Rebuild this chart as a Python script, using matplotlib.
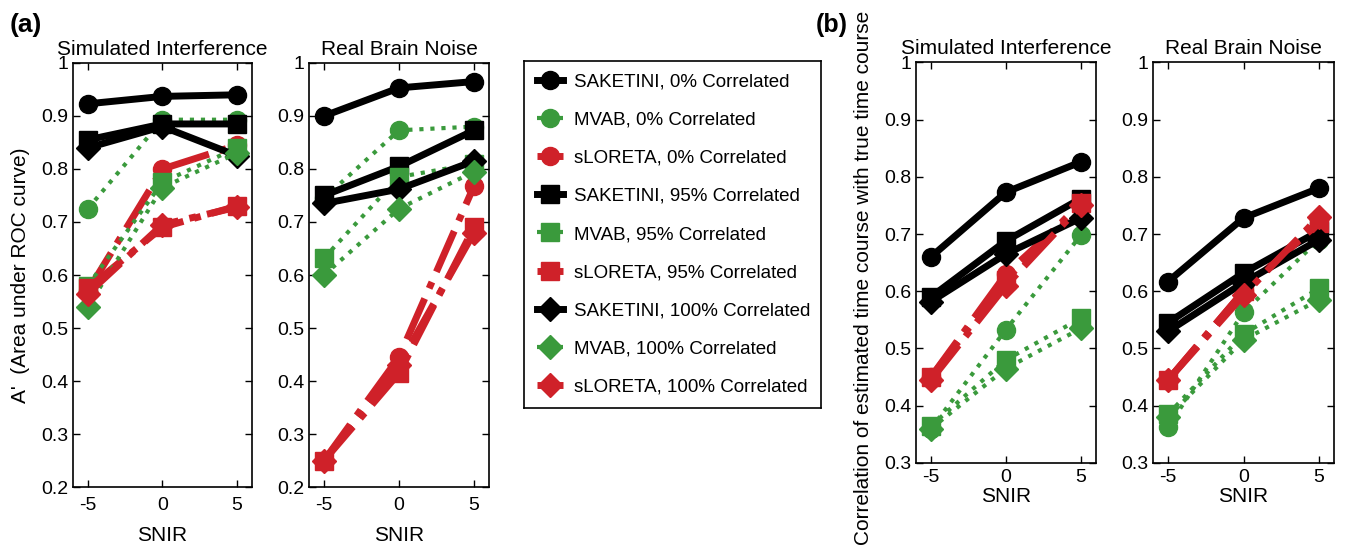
import matplotlib
matplotlib.use("Agg")
import matplotlib.pyplot as plt

plt.rcParams['font.family'] = ['Liberation Sans', 'DejaVu Sans']

snir = [-5, 0, 5]
labels = ['SAKETINI, 0% Correlated', 'MVAB, 0% Correlated', 'sLORETA, 0% Correlated',
          'SAKETINI, 95% Correlated', 'MVAB, 95% Correlated', 'sLORETA, 95% Correlated',
          'SAKETINI, 100% Correlated', 'MVAB, 100% Correlated', 'sLORETA, 100% Correlated']

# rows: 0%, 95%, 100% correlated
# (a) A' simulated interference
a_sim_saketini = [[0.923, 0.937, 0.940], [0.855, 0.885, 0.885], [0.840, 0.880, 0.825]]
a_sim_mvab = [[0.725, 0.893, 0.893], [0.580, 0.775, 0.840], [0.540, 0.765, 0.830]]
a_sim_sloreta = [[0.570, 0.800, 0.845], [0.575, 0.690, 0.730], [0.565, 0.695, 0.728]]
# (a) A' real brain noise
a_real_saketini = [[0.900, 0.953, 0.965], [0.750, 0.805, 0.873], [0.735, 0.762, 0.815]]
a_real_mvab = [[0.745, 0.873, 0.880], [0.632, 0.785, 0.810], [0.600, 0.725, 0.795]]
a_real_sloreta = [[0.250, 0.445, 0.768], [0.250, 0.415, 0.690], [0.250, 0.430, 0.680]]
# (b) correlation simulated interference
b_sim_saketini = [[0.660, 0.773, 0.826], [0.590, 0.688, 0.762], [0.582, 0.665, 0.728]]
b_sim_mvab = [[0.360, 0.533, 0.698], [0.365, 0.480, 0.553], [0.360, 0.465, 0.535]]
b_sim_sloreta = [[0.450, 0.630, 0.750], [0.450, 0.620, 0.755], [0.445, 0.610, 0.750]]
# (b) correlation real brain noise
b_real_saketini = [[0.617, 0.728, 0.780], [0.545, 0.632, 0.705], [0.530, 0.615, 0.690]]
b_real_mvab = [[0.363, 0.563, 0.690], [0.385, 0.525, 0.605], [0.380, 0.515, 0.585]]
b_real_sloreta = [[0.445, 0.600, 0.725], [0.445, 0.600, 0.720], [0.445, 0.593, 0.730]]

green = '#3a9a3c'
red = '#cf2129'
markers = ['o', 's', 'D']
styles = {'saketini': dict(color='black', ls='-', lw=5),
          'mvab': dict(color=green, ls=':', lw=3),
          'sloreta': dict(color=red, ls='-.', lw=5)}

fig = plt.figure(figsize=(13.46, 5.55), dpi=100)

def panel(rect, sak, mv, slo, ylim, yticks, ylabs, title):
    ax = fig.add_axes(rect)
    handles = []
    for i in range(3):
        for name, data in (('saketini', sak), ('mvab', mv), ('sloreta', slo)):
            st = styles[name]
            ms = 13 if markers[i] != 'D' else 12
            h, = ax.plot(snir, data[i], marker=markers[i], markersize=ms,
                         markeredgecolor=st['color'], markerfacecolor=st['color'],
                         color=st['color'], linestyle=st['ls'], linewidth=st['lw'])
            handles.append(h)
    ax.set_xlim(-6, 6)
    ax.set_ylim(*ylim)
    ax.set_xticks(snir)
    ax.set_xticklabels(['-5', '0', '5'])
    ax.set_yticks(yticks)
    ax.set_yticklabels(ylabs)
    ax.tick_params(direction='in', top=True, right=True, length=5, labelsize=14, width=1)
    for s in ax.spines.values():
        s.set_linewidth(1.2)
    ax.set_title(title, fontsize=15, pad=6)
    return ax, handles

ya = [0.2, 0.3, 0.4, 0.5, 0.6, 0.7, 0.8, 0.9, 1.0]
ya_l = ['0.2', '0.3', '0.4', '0.5', '0.6', '0.7', '0.8', '0.9', '1']
yb = [0.3, 0.4, 0.5, 0.6, 0.7, 0.8, 0.9, 1.0]
yb_l = ['0.3', '0.4', '0.5', '0.6', '0.7', '0.8', '0.9', '1']

ax1, handles = panel([0.0542, 0.1225, 0.133, 0.764], a_sim_saketini, a_sim_mvab, a_sim_sloreta,
                     (0.2, 1), ya, ya_l, 'Simulated Interference')
ax2, _ = panel([0.2296, 0.1225, 0.1337, 0.764], a_real_saketini, a_real_mvab, a_real_sloreta,
               (0.2, 1), ya, ya_l, 'Real Brain Noise')
ax3, _ = panel([0.6805, 0.1658, 0.1337, 0.722], b_sim_saketini, b_sim_mvab, b_sim_sloreta,
               (0.3, 1), yb, yb_l, 'Simulated Interference')
ax4, _ = panel([0.8566, 0.1658, 0.1345, 0.722], b_real_saketini, b_real_mvab, b_real_sloreta,
               (0.3, 1), yb, yb_l, 'Real Brain Noise')

for ax in (ax1, ax2):
    ax.tick_params(axis='x', pad=7)
    ax.set_xlabel('SNIR', fontsize=15, labelpad=9)
for ax in (ax3, ax4):
    ax.tick_params(axis='x', pad=4)
    ax.set_xlabel('SNIR', fontsize=15, labelpad=1)

ax1.set_ylabel("A'  (Area under ROC curve)", fontsize=15, labelpad=8)
fig.text(0.6415, 0.5, 'Correlation of estimated time course with true time course',
         rotation=90, fontsize=15, ha='center', va='center')

fig.text(0.007, 0.955, '(a)', fontsize=19, fontweight='bold', va='center')
fig.text(0.606, 0.955, '(b)', fontsize=18, fontweight='bold', va='center')

# legend box
lax = fig.add_axes([0.389, 0.265, 0.2207, 0.625])
lax.set_xticks([])
lax.set_yticks([])
for s in lax.spines.values():
    s.set_linewidth(1.2)
lax.legend(handles, labels, loc='center left', frameon=False, fontsize=13.5,
           handlelength=1.4, handletextpad=0.6, labelspacing=1.12, borderaxespad=0.3)

fig.savefig('out.png', dpi=100)
